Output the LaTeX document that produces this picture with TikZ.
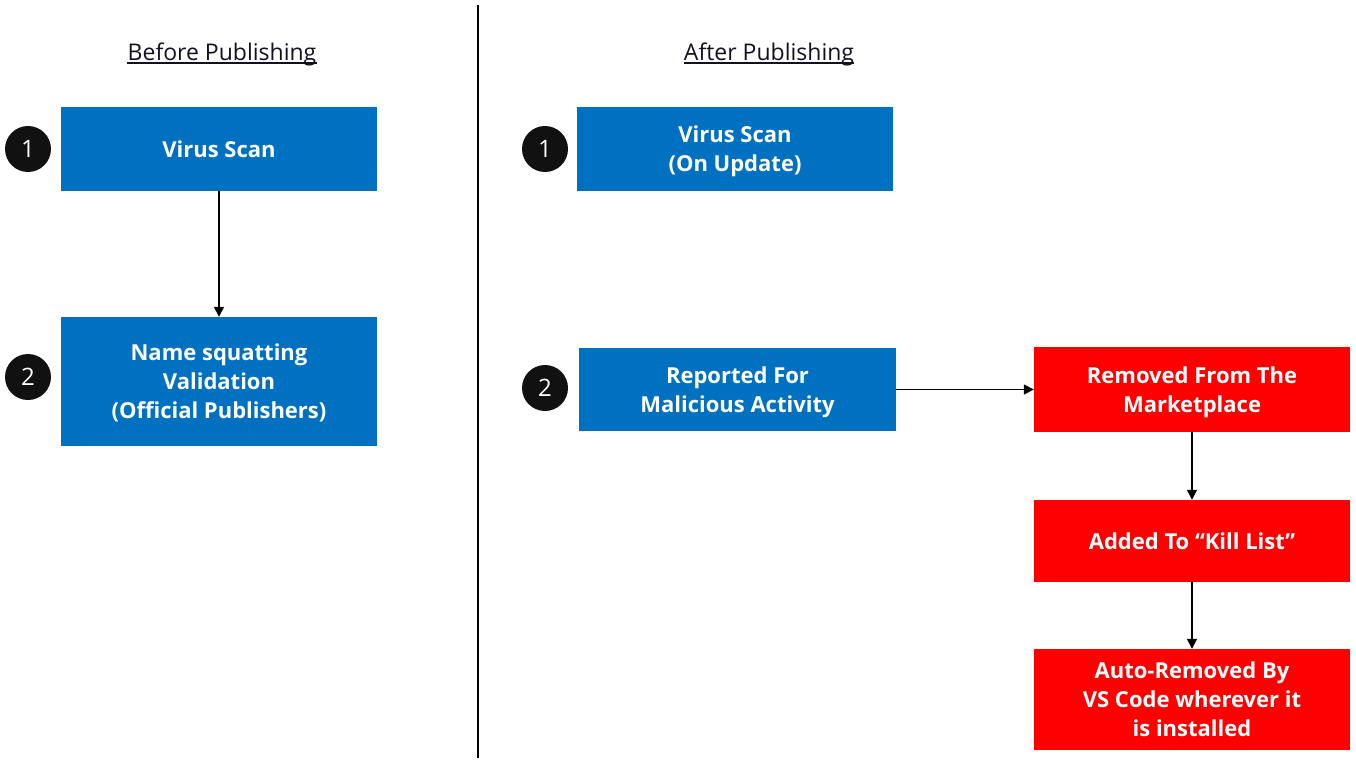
\documentclass[tikz,border=0pt]{standalone}
\usepackage{fontspec}
\setmainfont{Open Sans}
\usetikzlibrary{arrows.meta}
\definecolor{boxblue}{HTML}{0070C0}
\definecolor{boxred}{HTML}{FF0000}
\definecolor{headink}{HTML}{111122}
\definecolor{dotink}{HTML}{111111}
\begin{document}
\begin{tikzpicture}[x=1pt,y=-1pt,
  box/.style={rectangle,draw=none,text=white,align=center,inner sep=0pt,
    text depth=0pt,font=\fontsize{22}{29}\selectfont\bfseries},
  bluebox/.style={box,fill=boxblue},
  redbox/.style={box,fill=boxred},
  num/.style={circle,fill=dotink,text=white,minimum size=46pt,inner sep=0pt,
    font=\fontsize{24}{26}\selectfont},
  head/.style={text=headink,inner sep=0pt,font=\fontsize{23}{26}\selectfont},
  conn/.style={draw=black,line width=1.5pt,-{Triangle[length=10pt,width=10pt]}},
]
\useasboundingbox (0,0) rectangle (1356,765);

% divider
\coordinate (dtop) at (478,5);
\coordinate (dbot) at (478,758);
\draw[line width=2pt,black] (dtop) -- (dbot);

% headings
\node[head,anchor=base] (h1) at (222,60.5) {Before Publishing};
\node[head,anchor=base] (h2) at (769,60.5) {After Publishing};
\draw[headink,line width=1.5pt] ([yshift=-2.5pt]h1.base west) -- ([yshift=-2.5pt]h1.base east);
\draw[headink,line width=1.5pt] ([yshift=-2.5pt]h2.base west) -- ([yshift=-2.5pt]h2.base east);

% before publishing
\node[bluebox,minimum width=316pt,minimum height=84pt] (a1) at (219,149) {Virus Scan};
\node[bluebox,minimum width=316pt,minimum height=129pt] (a2) at (219,381.5) {Name squatting\\Validation\\(Official Publishers)};
\node[num] (n1) at (28,149) {1};
\node[num] (n2) at (28,377) {2};
\draw[conn] (a1) -- (a2);

% after publishing
\node[bluebox,minimum width=316pt,minimum height=84pt] (b1) at (735,149) {Virus Scan\\(On Update)};
\node[bluebox,minimum width=317pt,minimum height=83pt] (b2) at (737.5,389.5) {Reported For\\Malicious Activity};
\node[num] (n3) at (545,149) {1};
\node[num] (n4) at (545,388) {2};

\node[redbox,minimum width=316pt,minimum height=85pt] (r1) at (1192,389.5) {Removed From The\\Marketplace};
\node[redbox,minimum width=316pt,minimum height=82pt] (r2) at (1192,541) {Added To “Kill List”};
\node[redbox,minimum width=316pt,minimum height=101pt] (r3) at (1192,699.5) {Auto-Removed By\\VS Code wherever it\\is installed};

\draw[conn] (b2) -- (r1);
\draw[conn] (r1) -- (r2);
\draw[conn] (r2) -- (r3);
\end{tikzpicture}
\end{document}
